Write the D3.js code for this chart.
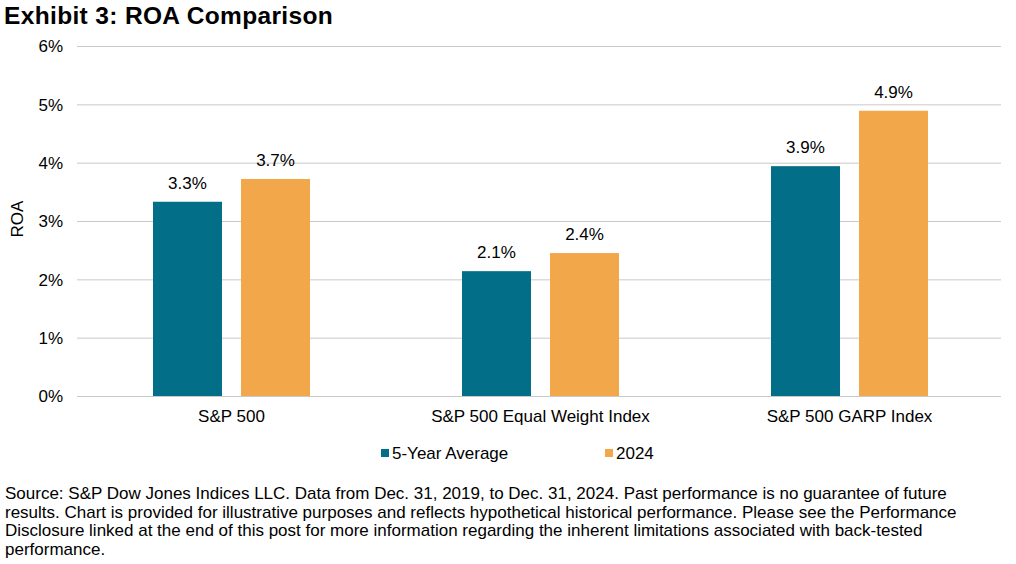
<!DOCTYPE html>
<meta charset="utf-8">
<head>
    <title>ROA Comparison</title>
</head>
<style>
    body { margin: 0; background: #fff; }
    text { font-family: "Liberation Sans", Arial, sans-serif; fill: #000; }
    .grid line { stroke: #c9c9c9; stroke-width: 1px; }
    .tick text { font-size: 17px; }
    .val { font-size: 17px; text-anchor: middle; }
    .note { font-size: 17px; }
</style>
<svg width="1016" height="564"></svg>
<script src="https://d3js.org/d3.v7.min.js"></script>
<script>

    var categories = ["S&P 500", "S&P 500 Equal Weight Index", "S&P 500 GARP Index"];
    var seriesNames = ["5-Year Average", "2024"];
    var fiveYear = [3.33, 2.14, 3.94];
    var y2024 = [3.72, 2.45, 4.89];
    var labels5 = ["3.3%", "2.1%", "3.9%"];
    var labels24 = ["3.7%", "2.4%", "4.9%"];
    var yTicks = [0, 1, 2, 3, 4, 5, 6];
    var colors = ["#036E87", "#F2A74B"];
    var notes = [
        "Source: S&P Dow Jones Indices LLC. Data from Dec. 31, 2019, to Dec. 31, 2024. Past performance is no guarantee of future",
        "results. Chart is provided for illustrative purposes and reflects hypothetical historical performance. Please see the Performance",
        "Disclosure linked at the end of this post for more information regarding the inherent limitations associated with back-tested",
        "performance."
    ];

    var data = categories.map(function(c, i) {
        return {cat: c, vals: [
            {s: seriesNames[0], v: fiveYear[i], lab: labels5[i]},
            {s: seriesNames[1], v: y2024[i], lab: labels24[i]}
        ]};
    });

    var svg = d3.select("svg");
    var plotL = 77, plotR = 1004, plotT = 46, plotB = 396;

    var x0 = d3.scaleBand().domain(categories).range([plotL, plotR]);
    var groupW = 157;
    var x1 = d3.scaleBand().domain(seriesNames).range([0, groupW]).paddingInner(0.216);
    var y = d3.scaleLinear().domain([0, 6]).range([plotB, plotT]);

    svg.append("text")
        .attr("x", 4).attr("y", 24)
        .style("font-size", "24.5px").style("font-weight", "bold")
        .style("letter-spacing", "0.35px")
        .text("Exhibit 3: ROA Comparison");

    // gridlines + y labels
    svg.append("g")
        .attr("class", "grid")
        .attr("transform", "translate(" + plotL + ",0)")
        .call(d3.axisLeft(y).tickValues(yTicks).tickSize(-(1001 - plotL)).tickPadding(14)
            .tickFormat(function(d) { return d + "%"; }))
        .call(function(g) { g.select(".domain").remove(); })
        .call(function(g) { g.selectAll(".tick text").attr("dy", "0.35em").style("fill", "#000"); });

    svg.append("text")
        .attr("transform", "translate(23,219) rotate(-90)")
        .attr("text-anchor", "middle")
        .style("font-size", "17px")
        .text("ROA");

    var grp = svg.selectAll(".grp")
        .data(data)
        .enter().append("g")
        .attr("transform", function(d) {
            return "translate(" + (x0(d.cat) + (x0.bandwidth() - groupW) / 2) + ",0)";
        });

    grp.selectAll("rect")
        .data(function(d) { return d.vals; })
        .enter().append("rect")
        .attr("x", function(d) { return x1(d.s); })
        .attr("width", x1.bandwidth())
        .attr("y", function(d) { return y(d.v); })
        .attr("height", function(d) { return plotB - y(d.v); })
        .attr("fill", function(d, i) { return colors[i]; });

    grp.selectAll(".val")
        .data(function(d) { return d.vals; })
        .enter().append("text")
        .attr("class", "val")
        .attr("x", function(d) { return x1(d.s) + x1.bandwidth() / 2; })
        .attr("y", function(d) { return y(d.v) - 13; })
        .text(function(d) { return d.lab; });

    svg.selectAll(".cat")
        .data(categories)
        .enter().append("text")
        .attr("x", function(d) { return x0(d) + x0.bandwidth() / 2; })
        .attr("y", 422)
        .attr("text-anchor", "middle")
        .style("font-size", "17px")
        .text(function(d) { return d; });

    // legend
    var legX = [381, 605];
    var leg = svg.selectAll(".leg")
        .data(seriesNames)
        .enter().append("g")
        .attr("transform", function(d, i) { return "translate(" + legX[i] + ",449)"; });
    leg.append("rect").attr("width", 8).attr("height", 8)
        .attr("fill", function(d, i) { return colors[i]; });
    leg.append("text").attr("x", 11).attr("y", 10)
        .style("font-size", "17px")
        .text(function(d) { return d; });

    svg.append("g").selectAll("text")
        .data(notes)
        .enter().append("text")
        .attr("class", "note")
        .attr("x", 5)
        .attr("y", function(d, i) { return 499 + i * 18.7; })
        .text(function(d) { return d; });

</script>
